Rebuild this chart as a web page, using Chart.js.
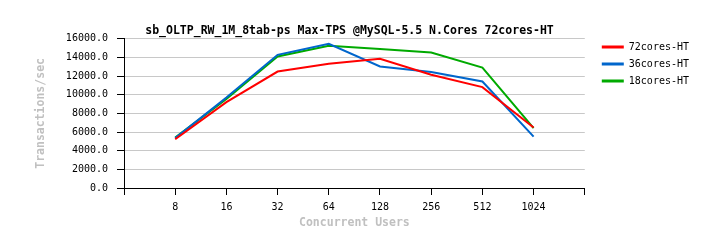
<!DOCTYPE html>
<html>
<head>
<meta charset="utf-8">
<style>
  html, body { margin: 0; padding: 0; background: #fff; }
  #wrap { width: 714px; height: 248px; }
</style>
<script src="https://cdn.jsdelivr.net/npm/chart.js@4/dist/chart.umd.min.js"></script>
</head>
<body>
<div id="wrap"><canvas id="myChart" width="714" height="248"></canvas></div>
<script>
const users = ["8", "16", "32", "64", "128", "256", "512", "1024"];
const tps72 = [5230, 9200, 12490, 13320, 13850, 12140, 10820, 6480];
const tps36 = [5350, 9700, 14280, 15470, 13030, 12430, 11420, 5510];
const tps18 = [5400, 9550, 14100, 15250, 14900, 14530, 12920, 6410];

const MONO = "'DejaVu Sans Mono', 'Liberation Mono', monospace";

// x positions 1..8, axis runs 0..9 like the original
function pts(vals) {
    return vals.map((v, i) => ({ x: i + 1, y: v }));
}

const ctx = document.getElementById("myChart");

const chart = new Chart(ctx, {
    type: "line",
    data: {
        datasets: [
            { label: "72cores-HT", data: pts(tps72), borderColor: "#ff0000", backgroundColor: "#ff0000" },
            { label: "36cores-HT", data: pts(tps36), borderColor: "#0066cc", backgroundColor: "#0066cc" },
            { label: "18cores-HT", data: pts(tps18), borderColor: "#00aa00", backgroundColor: "#00aa00" },
        ],
    },
    options: {
        responsive: false,
        animation: false,
        elements: {
            point: { radius: 0 },
            line: { borderWidth: 2, tension: 0 },
        },
        layout: { padding: { left: 0, right: 15, top: 0, bottom: 0 } },
        plugins: {
            tooltip: { enabled: false },
            title: {
                display: true,
                text: "sb_OLTP_RW_1M_8tab-ps Max-TPS @MySQL-5.5 N.Cores 72cores-HT",
                color: "#000",
                font: { family: MONO, size: 11.5, weight: "bold" },
                padding: { top: 24, bottom: 1 },
            },
            legend: {
                position: "right",
                align: "start",
                title: { display: true, text: "", font: { size: 10 }, padding: { top: 23, bottom: 0 } },
                labels: {
                    color: "#000",
                    font: { family: MONO, size: 10 },
                    boxWidth: 22,
                    boxHeight: 3,
                    padding: 7,
                    generateLabels: (c) =>
                        Chart.defaults.plugins.legend.labels.generateLabels(c).map((l) => ({ ...l, lineWidth: 0 })),
                },
            },
        },
        scales: {
            x: {
                type: "linear",
                min: 0,
                max: 9,
                afterFit: (s) => { s.height = 60; },
                grid: { drawOnChartArea: false, color: "#000", tickLength: 7 },
                border: { color: "#000", width: 1 },
                ticks: {
                    stepSize: 1,
                    autoSkip: false,
                    maxRotation: 0,
                    color: "#000",
                    font: { family: MONO, size: 10 },
                    padding: 6,
                    callback: (v) => users[v - 1] || "",
                },
                title: {
                    display: true,
                    text: "Concurrent Users",
                    color: "#c0c0c0",
                    font: { family: MONO, size: 11.5, weight: "bold" },
                    padding: { top: 0, bottom: 18 },
                },
            },
            y: {
                min: 0,
                max: 16000,
                afterFit: (s) => { s.width = 124; },
                grid: { color: "#c8c8c8", tickColor: "#000", tickLength: 7 },
                border: { color: "#000", width: 1 },
                ticks: {
                    stepSize: 2000,
                    color: "#000",
                    font: { family: MONO, size: 10 },
                    padding: 9,
                    callback: (v) => v.toFixed(1),
                },
                title: {
                    display: true,
                    text: "Transactions/sec",
                    color: "#c0c0c0",
                    font: { family: MONO, size: 11.5, weight: "bold" },
                    padding: { top: 34, bottom: 0 },
                },
            },
            // empty spacer between plot and legend
            gap: {
                type: "linear",
                position: "right",
                display: true,
                afterFit: (s) => { s.width = 10; },
                grid: { display: false },
                border: { display: false },
                ticks: { display: false },
            },
        },
    },
});
</script>
</body>
</html>
